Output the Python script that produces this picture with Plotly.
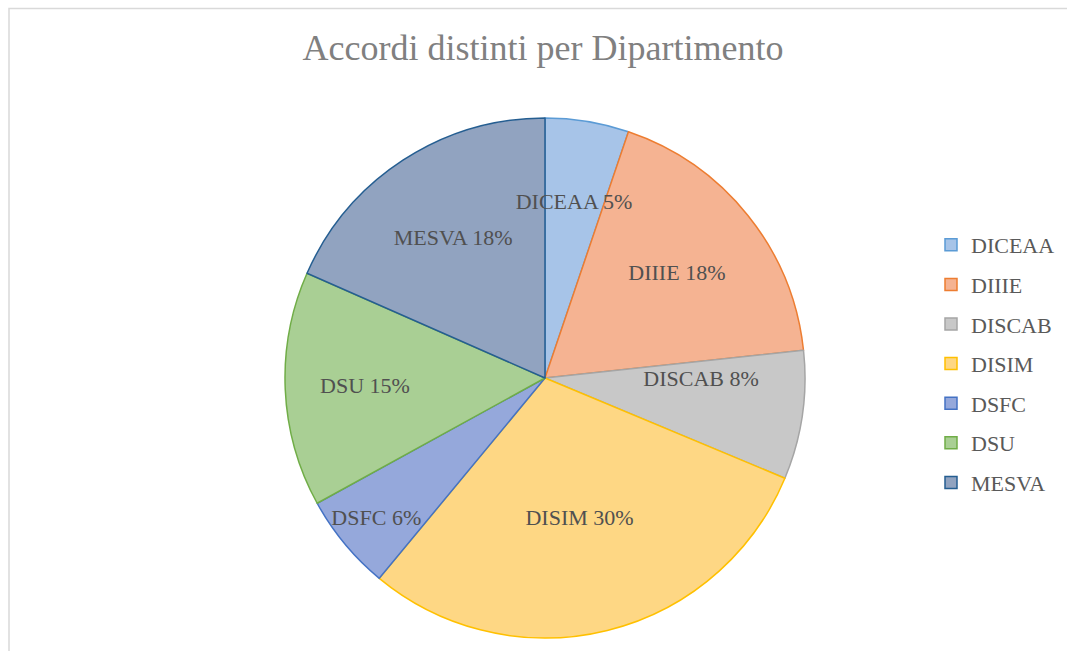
import plotly.graph_objects as go

W, H = 1067, 651

departments = ["DICEAA", "DIIIE", "DISCAB", "DISIM", "DSFC", "DSU", "MESVA"]
shares = [5.2, 18.1, 8.0, 29.7, 6.0, 14.6, 18.4]
fill_colors = ["#a7c4e8", "#f5b392", "#c8c8c8", "#fed784", "#95a8db", "#a9cf94", "#91a3c0"]
line_colors = ["#5b9bd5", "#ed7d31", "#a5a5a5", "#ffc000", "#4472c4", "#70ad47", "#255e91"]
# which labels sit closer to the centre (placed via a smaller overlay pie)
inner_labels = ["DICEAA", "DISCAB"]
title_text = "Accordi distinti per Dipartimento"

serif = "Liberation Serif"
CX, CY, R = 545, 378, 260


def dom(scale):
    r = R * scale
    return dict(x=[(CX - r) / W, (CX + r) / W], y=[1 - (CY + r) / H, 1 - (CY - r) / H])


pie_common = dict(labels=departments, values=shares, sort=False, direction="clockwise",
                  rotation=0, showlegend=False)

fig = go.Figure()
# base pie: fills and outlines only
fig.add_trace(go.Pie(
    **pie_common,
    marker=dict(colors=fill_colors, line=dict(color=line_colors, width=1.5)),
    textinfo="none",
    hoverinfo="label+percent",
    domain=dom(1.0),
))

transparent = ["rgba(0,0,0,0)"] * len(departments)
for scale, chosen in [(1.0, [d not in inner_labels for d in departments]),
                      (0.8, [d in inner_labels for d in departments])]:
    fig.add_trace(go.Pie(
        **pie_common,
        marker=dict(colors=transparent, line=dict(width=0)),
        text=[f"{d} {v / sum(shares):.0%}" if c else "" for d, v, c in zip(departments, shares, chosen)],
        texttemplate="%{text}",
        textposition="inside",
        insidetextorientation="horizontal",
        textfont=dict(family=serif, size=22, color="#505050"),
        hoverinfo="skip",
        domain=dom(scale),
    ))

for name, fc, lc in zip(departments, fill_colors, line_colors):
    fig.add_trace(go.Scatter(
        x=[None], y=[None], mode="markers", name=name, legendgroup=name,
        marker=dict(symbol="square", size=12, color=fc, line=dict(color=lc, width=1.5)),
    ))

fig.update_layout(
    width=W, height=H,
    margin=dict(l=0, r=0, t=0, b=0),
    paper_bgcolor="white", plot_bgcolor="white",
    title=dict(text=title_text, x=543 / W, xanchor="center", y=1 - 47 / H, yanchor="middle",
               font=dict(family=serif, size=36, color="#808080")),
    uniformtext=dict(mode="show", minsize=22),
    xaxis=dict(visible=False), yaxis=dict(visible=False),
    legend=dict(x=931 / W, xanchor="left", y=1 - 364 / H, yanchor="middle",
                font=dict(family=serif, size=22, color="#595959"),
                tracegroupgap=8, bgcolor="rgba(0,0,0,0)"),
    shapes=[dict(type="rect", xref="paper", yref="paper",
                 x0=9 / W, x1=1.05, y0=-0.05, y1=1 - 8.5 / H,
                 line=dict(color="#d9d9d9", width=1.5), layer="below")],
)

fig.write_html("out.html", config={"displayModeBar": False},
               post_script="document.body.style.margin='0';")
